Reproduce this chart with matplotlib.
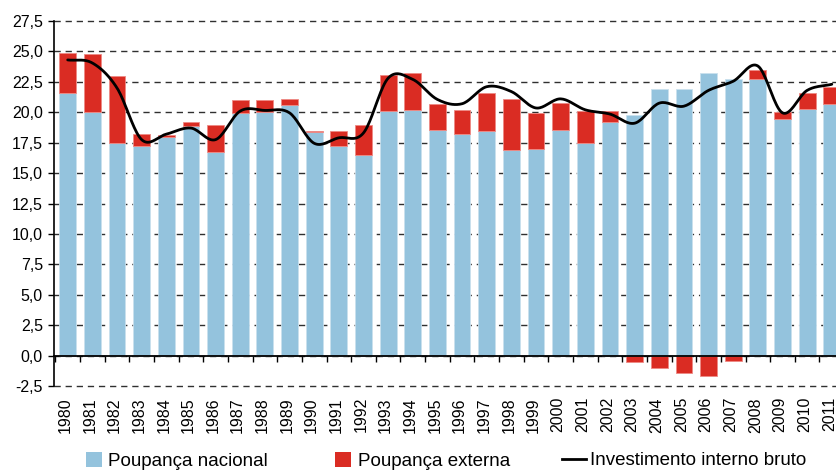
import numpy as np
import matplotlib
matplotlib.use("Agg")
import matplotlib.pyplot as plt
import matplotlib.transforms as mtransforms
from matplotlib.patches import Patch
from matplotlib.lines import Line2D
from matplotlib.ticker import FuncFormatter, FixedLocator

plt.rcParams['font.family'] = ['Liberation Sans', 'DejaVu Sans']

anos = [str(a) for a in range(1980, 2012)]

poupanca_nacional = [21.6, 20.0, 17.45, 17.25, 17.95, 18.9, 16.75, 19.9, 20.0, 20.6,
                     18.35, 17.2, 16.45, 20.1, 20.2, 18.55, 18.2, 18.5, 16.9, 17.0,
                     18.55, 17.5, 19.2, 19.8, 21.95, 21.95, 23.25, 22.7, 22.75, 19.45,
                     20.3, 20.65]

poupanca_externa = [3.3, 4.8, 5.55, 0.95, 0.15, 0.3, 2.2, 1.1, 1.0, 0.5,
                    0.1, 1.3, 2.5, 2.95, 3.0, 2.1, 2.0, 3.1, 4.2, 2.95,
                    2.25, 2.6, 0.9, -0.5, -1.05, -1.45, -1.7, -0.45, 0.7, 0.55,
                    1.25, 1.4]

investimento = [24.3, 24.05, 22.0, 17.75, 18.2, 18.7, 17.75, 20.1, 20.15, 19.95,
                17.45, 17.9, 18.3, 22.8, 22.7, 21.05, 20.7, 22.1, 21.7, 20.35,
                21.1, 20.2, 19.85, 19.1, 20.75, 20.5, 21.8, 22.55, 23.8, 19.95,
                21.8, 22.3]

AZUL = '#94C3DD'
VERMELHO = '#DA2C23'


def suavizar(xs, ys, n=20):
    """Curva suavizada (Catmull-Rom) passando pelos pontos anuais."""
    xs = np.asarray(xs, float)
    ys = np.asarray(ys, float)
    px = np.concatenate([[2 * xs[0] - xs[1]], xs, [2 * xs[-1] - xs[-2]]])
    py = np.concatenate([[2 * ys[0] - ys[1]], ys, [2 * ys[-1] - ys[-2]]])
    out_x, out_y = [], []
    t = np.linspace(0, 1, n, endpoint=False)
    for i in range(1, len(px) - 2):
        p0, p1, p2, p3 = (np.array([px[j], py[j]]) for j in range(i - 1, i + 3))
        c1 = p1 + (p2 - p0) / 6.0
        c2 = p2 - (p3 - p1) / 6.0
        b = ((1 - t) ** 3)[:, None] * p1 + (3 * (1 - t) ** 2 * t)[:, None] * c1 \
            + (3 * (1 - t) * t ** 2)[:, None] * c2 + (t ** 3)[:, None] * p2
        out_x.extend(b[:, 0])
        out_y.extend(b[:, 1])
    out_x.append(xs[-1])
    out_y.append(ys[-1])
    return np.array(out_x), np.array(out_y)


fig = plt.figure(figsize=(8.37, 4.72), dpi=100)
ax = fig.add_axes([54 / 837, 1 - 386 / 472, 1 - 54 / 837, (386 - 21) / 472])

x = np.arange(len(anos))
nac = np.array(poupanca_nacional)
ext = np.array(poupanca_externa)
largura = 0.68

ax.bar(x, nac, width=largura, color=AZUL, edgecolor='#C9E0EE', linewidth=0.6, zorder=2)
base_ext = np.where(ext >= 0, nac, 0.0)
ax.bar(x, ext, bottom=base_ext, width=largura, color=VERMELHO,
       edgecolor='#EE8A85', linewidth=0.6, zorder=2)

sx, sy = suavizar(x, investimento)
ax.plot(sx, sy, color='black', lw=2.0, zorder=4, solid_capstyle='round')

ax.set_xlim(-0.555, 31.21)
ax.set_ylim(-2.5, 27.5)

yt = np.arange(-2.5, 27.51, 2.5)
ax.set_yticks(yt)
ax.yaxis.set_major_formatter(FuncFormatter(lambda v, p: f"{v:.1f}".replace('.', ',')))
ax.tick_params(axis='y', direction='out', length=4, width=1, labelsize=11.5, pad=4,
               colors='black')
ax.yaxis.grid(True, linestyle=(0, (4.5, 3.5)), color='#303030', lw=1.0)
for gl in ax.yaxis.get_gridlines():
    gl.set_clip_on(False)
ax.set_axisbelow(True)

for s in ('top', 'right'):
    ax.spines[s].set_visible(False)
ax.spines['left'].set_linewidth(1.2)
ax.spines['bottom'].set_position(('data', 0))
ax.spines['bottom'].set_linewidth(1.3)
ax.spines['bottom'].set_zorder(3)

ax.set_xticks([])
ax.xaxis.set_minor_locator(FixedLocator(np.arange(-0.5, len(anos), 1.0)))
ax.tick_params(axis='x', which='minor', direction='out', length=4, width=1, colors='black')

sec = ax.secondary_xaxis('bottom')
sec.set_xticks(x, labels=anos, rotation=90)
sec.tick_params(length=0, pad=8, labelsize=11.5)
sec.spines['bottom'].set_visible(False)
desloc = mtransforms.ScaledTranslation(-2.5 / 100, 0, fig.dpi_scale_trans)
for lbl in sec.get_xticklabels():
    lbl.set_transform(lbl.get_transform() + desloc)

# Legenda em três blocos ao longo da base
leg_kw = dict(frameon=False, fontsize=13.5, borderpad=0, borderaxespad=0,
              loc='center left')
fig.legend(handles=[Patch(facecolor=AZUL, edgecolor='none')],
           labels=['Poupança nacional'], bbox_to_anchor=(86 / 837, 0.024),
           handlelength=0.85, handleheight=0.85, handletextpad=0.35, **leg_kw)
fig.legend(handles=[Patch(facecolor=VERMELHO, edgecolor='none')],
           labels=['Poupança externa'], bbox_to_anchor=(335 / 837, 0.024),
           handlelength=0.85, handleheight=0.85, handletextpad=0.35, **leg_kw)
fig.legend(handles=[Line2D([], [], color='black', lw=2.0)],
           labels=['Investimento interno bruto'], bbox_to_anchor=(562 / 837, 0.024),
           handlelength=1.3, handletextpad=0.2, **leg_kw)

fig.savefig('out.png', dpi=100)
